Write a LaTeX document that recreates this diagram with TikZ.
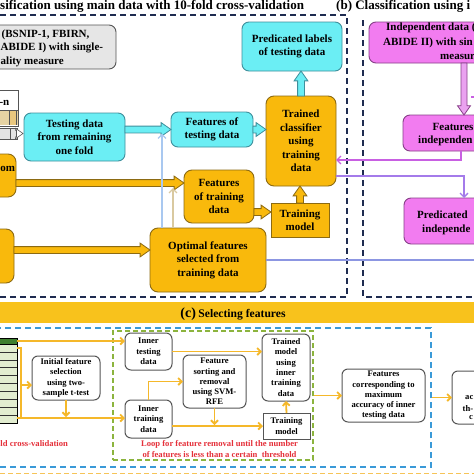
\documentclass[tikz,border=0pt]{standalone}
\usepackage{fontspec}
\setmainfont{Liberation Serif}
\usetikzlibrary{shapes.arrows,arrows.meta,calc}

\definecolor{cyanF}{HTML}{6BEEF4}
\definecolor{cyanD}{HTML}{3F8F9C}
\definecolor{orgF}{HTML}{F9B90C}
\definecolor{orgD}{HTML}{8C6A12}
\definecolor{pinkF}{HTML}{F27CF0}
\definecolor{pinkD}{HTML}{874088}
\definecolor{pinkAF}{HTML}{EAA2F0}
\definecolor{grayF}{HTML}{E6E6E6}
\definecolor{grayD}{HTML}{555555}
\definecolor{navy}{HTML}{1E2B50}
\definecolor{dblue}{HTML}{3A9AD8}
\definecolor{dgreen}{HTML}{8CB43E}
\definecolor{lineO}{HTML}{F5B82A}
\definecolor{redT}{HTML}{E5303A}
\definecolor{lblue}{HTML}{A9C8F0}
\definecolor{tanL}{HTML}{D9C9A0}
\definecolor{peri}{HTML}{8C96E2}
\definecolor{violetL}{HTML}{A47BEA}
\definecolor{magL}{HTML}{C860E2}
\definecolor{bandF}{HTML}{F8C21C}
\definecolor{tabG}{HTML}{3E7E2E}
\definecolor{tabL}{HTML}{E2EDD0}
\definecolor{tanF}{HTML}{E6D3A3}
\definecolor{tanS}{HTML}{E9C77E}
\definecolor{bandD}{HTML}{F6C458}

\newcommand\blockarrow[4][]{%
  \path let \p1=(#2), \p2=(#3), \n1={veclen(\x2-\x1,\y2-\y1)} in
    node[barrow,#1,minimum height=\n1,rotate=#4] at (\p1) {};}

\begin{document}
\begin{tikzpicture}[x=1pt,y=-1pt,
  fA/.style={font=\fontsize{11}{13.5}\selectfont\bfseries},
  fC/.style={font=\fontsize{8.6}{10.3}\selectfont\bfseries},
  bx/.style={inner sep=0pt, outer sep=0pt, align=center, line width=0.9pt},
  cyanbox/.style={bx, fA, draw=cyanD, fill=cyanF, rounded corners=7pt},
  orgbox/.style={bx, fA, draw=orgD, fill=orgF, rounded corners=8pt},
  orgsq/.style={bx, fA, draw=orgD, fill=orgF},
  pinkbox/.style={bx, fA, draw=pinkD, fill=pinkF, rounded corners=7pt},
  graybox/.style={bx, fA, draw=grayD, fill=grayF, rounded corners=7pt},
  wbox/.style={bx, fC, draw=grayD, fill=white, rounded corners=6pt, line width=1pt},
  wsq/.style={bx, fC, draw=grayD, fill=white, line width=1pt},
  frag/.style={fA, inner sep=0pt, anchor=west},
  fragC/.style={fC, inner sep=0pt, anchor=west},
  navydash/.style={draw=navy, line width=1.4pt, dash pattern=on 6pt off 4pt},
  barrow/.style={single arrow, anchor=tail, inner xsep=0pt, inner ysep=3pt, outer sep=0pt,
     single arrow head extend=3.5pt, single arrow tip angle=70, minimum width=0pt, line width=0.8pt},
  cyanA/.style={fill=cyanF, draw=cyanD},
  orgA/.style={fill=orgF, draw=orgD},
  pinkA/.style={fill=pinkAF, draw=pinkD, inner ysep=2.6pt},
  oline/.style={draw=lineO, line width=1.8pt},
  oarrow/.style={oline, -{Straight Barb[length=3.5pt,width=7pt]}},
  thinA/.style={line width=1.3pt, -{Straight Barb[length=4pt,width=8pt]}},
]
\useasboundingbox (0,0) rectangle (474,474);
\clip (0,0) rectangle (474,474);
\fill[white] (0,0) rectangle (474,474);

% ---------- frames (a) and (b)
\draw[navydash] (-10,15) -- (347,15) -- (347,297) -- (-10,297);
\draw[navydash] (363,20) -- (363,297) -- (480,297);
\node[font=\fontsize{13}{13}\selectfont\bfseries, inner sep=0pt, anchor=base west] (ttlA) at (0,9)
  {sification using main data with 10-fold cross-validation};
\node[font=\fontsize{13}{13}\selectfont\bfseries, inner sep=0pt, anchor=base west] (ttlB) at (336,9)
  {(b) Classification using i};

% ---------- (a) nodes
\node[graybox, minimum width=156, minimum height=44] (gray) at (38,47) {};
\node[frag] (g1) at (1.5,35) {(BSNIP-1, FBIRN,};
\node[frag] (g2) at (0.5,48) {ABIDE I) with single-};
\node[frag] (g3) at (0.5,62) {ality measure};

% fold table
\draw[grayD, fill=white, line width=0.8pt] (-5,90) rectangle (18,126);
\node[fA, inner sep=0pt, anchor=east] (tn) at (9.5,103) {-n};
\fill[tanF] (-5,110) rectangle (18,125);
\fill[tanS] (9,110) rectangle (16,125);
\draw[grayD, line width=0.6pt] (-5,110) -- (18,110) (9,110) -- (9,125) (16,110) -- (16,125);
\draw[grayD, fill=gray!22, line width=0.8pt] (-5,128) rectangle (17,139);
\draw[grayD, line width=0.6pt] (10,128) -- (10,139);
\coordinate (gA1) at (16.5,133.5);
\coordinate (gA2) at (23,133.5);
\blockarrow[fill=white, draw=grayD, inner ysep=3pt, single arrow head extend=2pt, line width=0.6pt]{gA1}{gA2}{0}

\node[cyanbox, minimum width=101, minimum height=48] (tst) at (74.5,137) {Testing data\\from remaining\\one fold};
\node[orgbox, minimum width=56, minimum height=43] (om) at (-12,175.5) {};
\node[fA, inner sep=0pt, anchor=west] (omt) at (0.3,169) {om};
\node[orgbox, minimum width=54, minimum height=54] (ob2) at (-13,256) {};
\node[cyanbox, minimum width=82, minimum height=35] (ftst) at (212,129.5) {Features of\\testing data};
\node[orgbox, minimum width=70, minimum height=53] (ftr) at (219,196.5) {Features\\of training\\data};
\node[orgbox, minimum width=116, minimum height=64] (opt) at (208,260) {Optimal features\\selected from\\training data};
\node[orgsq, minimum width=58, minimum height=34] (tm) at (300,220) {Training\\model};
\node[orgbox, minimum width=70, minimum height=90] (tc) at (301,141) {Trained\\classifier\\using\\training\\data};
\node[cyanbox, minimum width=100, minimum height=49] (pl) at (292,46.5) {Predicated labels\\of testing data};

% ---------- (b) nodes
\node[pinkbox, minimum width=190, minimum height=41] (p1) at (464,42.5) {};
\node[frag] (p1a) at (386,28) {Independent data (};
\node[frag] (p1b) at (383,43) {ABIDE II) with sin};
\node[frag] (p1c) at (440,57) {measur};
\node[pinkbox, minimum width=122, minimum height=36] (p2) at (464,133) {};
\node[frag] (p2a) at (432.5,127) {Features};
\node[frag] (p2b) at (418,141) {independen};
\node[pinkbox, minimum width=120, minimum height=46] (p3) at (464,221) {};
\node[frag] (p3a) at (417,215) {Predicated};
\node[frag] (p3b) at (422,230) {independe};

% ---------- block arrows (a),(b)
\coordinate (a1s) at (tst.east |- ftst.west);
\blockarrow[cyanA]{a1s}{ftst.west}{0}
\coordinate (a2e) at (ftst.east -| tc.west);
\blockarrow[cyanA]{ftst.east}{a2e}{0}
\coordinate (a3e) at (tc.north |- pl.south);
\blockarrow[cyanA]{tc.north}{a3e}{90}
\coordinate (a4e) at (tm.north |- tc.south);
\blockarrow[orgA]{tm.north}{a4e}{90}
\coordinate (a5e) at ($(tm.west)+(0,-8)$);
\coordinate (a5s) at (ftr.east |- a5e);
\blockarrow[orgA]{a5s}{a5e}{0}
\coordinate (a6e) at ($(ftr.west)+(0,-13.5)$);
\coordinate (a6s) at (om.east |- a6e);
\blockarrow[orgA]{a6s}{a6e}{0}
\coordinate (a7e) at ($(opt.west)+(0,-10)$);
\coordinate (a7s) at (ob2.east |- a7e);
\blockarrow[orgA]{a7s}{a7e}{0}
\blockarrow[pinkA]{p1.south}{p2.north}{-90}

% ---------- thin connectors (a),(b)
\coordinate (lbT) at (162,133.5);
\draw[thinA, draw=lblue] (opt.north -| lbT) -- (lbT);
\coordinate (tnT) at (173,188);
\draw[thinA, draw=tanL] (opt.north -| tnT) -- (tnT);
\coordinate (pe1) at (480,260);
\draw[draw=peri, line width=1.2pt] (opt.east) -- (opt.east -| pe1);
\coordinate (pe2s) at ($(tc.east)+(0,35)$);
\draw[thinA, draw=violetL] (pe2s) -| (p3.north);
\coordinate (mgS) at ($(p2.south)+(-3,0)$);
\coordinate (mgE) at ($(tc.east)+(0,19)$);
\draw[thinA, draw=magL] (mgS) |- (mgE);
\coordinate (tk1) at (471,97);
\coordinate (tk2) at (478,97);
\draw[draw=magL, line width=1.2pt] (tk1) -- (tk2);

% ---------- (c) band and frames
\node[fill=bandF, minimum width=476, minimum height=21, inner sep=0pt] (band) at (237,312.5) {};
\node[inner sep=0pt, anchor=base] (ttlC) at (233,317.5)
  {{\fontsize{14}{14}\selectfont\bfseries (c)} {\fontsize{11.6}{12}\selectfont\bfseries Selecting features}};
\node[draw=dblue, line width=1.4pt, dash pattern=on 6pt off 4pt, minimum width=441, minimum height=139, inner sep=0pt] (blu) at (210.5,397.5) {};
\node[draw=dgreen, line width=1.2pt, dash pattern=on 5pt off 3pt, minimum width=200, minimum height=129, inner sep=0pt] (grn) at (213,395.5) {};
\draw[draw=bandD, line width=2pt, dash pattern=on 5pt off 3pt] (0,473.5) -- (474,473.5);

% green table
\fill[tabL] (-5,344) rectangle (17,423);
\fill[tabG] (-5,338) rectangle (17,344);
\foreach \i in {1,...,9} \draw[black!80, line width=0.6pt] (-5,{344+7.9*\i}) -- (17,{344+7.9*\i});
\draw[black, line width=0.9pt] (-5,338) rectangle (17,423);
\draw[black, line width=0.6pt] (-5,344) -- (17,344);

% (c) nodes
\node[wbox, minimum width=68, minimum height=44] (init) at (66,378) {Initial feature\\selection\\using two-\\sample t-test};
\node[wbox, minimum width=47, minimum height=37] (itst) at (148.5,351.5) {Inner\\testing\\data};
\node[wbox, minimum width=47, minimum height=38] (itrn) at (148.5,419) {Inner\\training\\data};
\node[wbox, minimum width=63, minimum height=53] (svm) at (214.5,381.5) {Feature\\sorting and\\removal\\using SVM-\\RFE};
\node[wbox, minimum width=48, minimum height=67] (tmod) at (286,367.5) {Trained\\model\\using\\inner\\training\\data};
\node[wsq, minimum width=47, minimum height=26] (trm2) at (286.5,426) {Training\\model};
\node[wbox, minimum width=83, minimum height=53] (fcorr) at (383.5,395.5) {Features\\corresponding to\\maximum\\accuracy of inner\\testing data};
\node[wbox, minimum width=78, minimum height=53] (rbox) at (491,397.5) {};
\node[fragC] (r1) at (465,398) {ac};
\node[fragC] (r2) at (462.5,409) {th-};
\node[fragC] (r3) at (469,418) {c};
\node[fC, text=redT, align=center, inner sep=0pt] (loop) at (219.5,449) {Loop for feature removal until the number\\of features is less than a certain~ threshold};
\node[fC, text=redT, inner sep=0pt, anchor=west] (rl) at (0.3,444) {ld cross-validation};

% (c) connectors
\coordinate (tbH) at (17,341);
\draw[oarrow] (tbH) -- (tbH -| itst.west);
\coordinate (brA) at (17,348);
\coordinate (brB) at (21,348);
\coordinate (brM) at (21,385);
\coordinate (brC) at (21,418);
\coordinate (tbB) at (17,418);
\draw[oline] (brA) -- (brB) -- (brC);
\draw[oarrow] (brM) -- (brM -| init.west);
\draw[oarrow] (tbB) -- (tbB -| itrn.west);
\draw[oarrow, shorten >=1pt] (init.south) -- (init.south |- tbB);
\draw[oarrow] (itst.east) -- (itst.east -| tmod.west);
\draw[oarrow] (itrn.north) |- (svm.west);
\draw[oarrow] (itrn.east |- trm2.west) -- (trm2.west);
\draw[oarrow, shorten >=1pt] (svm.south) -- (svm.south |- trm2.west);
\draw[oarrow] (trm2.north) -- (tmod.south);
\draw[oarrow] (grn.east) -- (grn.east -| fcorr.west);
\draw[oarrow] (blu.east) -- (blu.east -| rbox.west);
\end{tikzpicture}
\end{document}
